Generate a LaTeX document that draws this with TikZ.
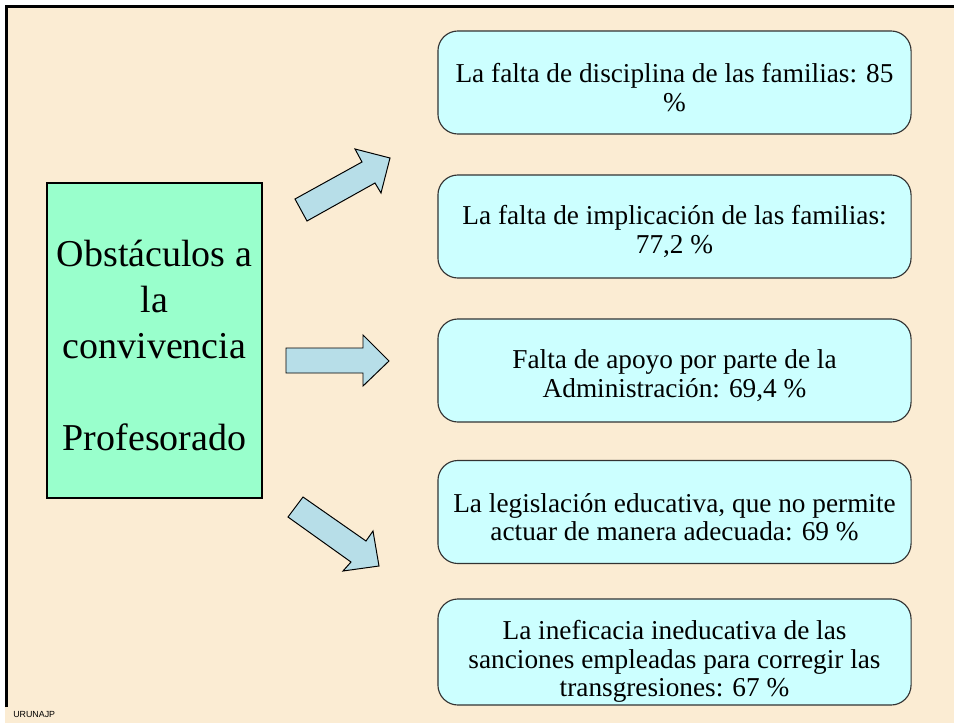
\documentclass[tikz,border=0pt]{standalone}
\usepackage{fontspec}
\setmainfont{Liberation Serif}
\newfontfamily\arialfont{Liberation Sans}
\definecolor{pergamino}{HTML}{FBECD3}
\definecolor{verdecaja}{HTML}{99FFCC}
\definecolor{cyancaja}{HTML}{CCFFFF}
\definecolor{azulflecha}{HTML}{B7DEE8}
\newcommand{\bajar}[1]{\rule{0pt}{#1}}
\begin{document}
\begin{tikzpicture}[x=0.025cm,y=-0.025cm,
        causa/.style={draw=black!80, line width=0.8pt, fill=cyancaja, rounded corners=0.5cm,
            minimum width=11.825cm, minimum height=2.575cm, inner sep=0pt, align=center,
            font=\fontsize{19.4}{20.3}\selectfont},
        flecha/.style={draw=black, line width=0.7pt, fill=azulflecha, line join=miter}]
                \useasboundingbox (0,0) rectangle (954,723);
                \fill[white] (0,0) rectangle (954,723);
                \fill[pergamino] (5,5) rectangle (954,723);
                \draw[line width=2.1pt] (6.5,707) -- (6.5,6.5) -- (954,6.5);
                % caja principal
                \node[draw=black, line width=1.1pt, fill=verdecaja, minimum width=5.375cm, minimum height=7.875cm,
                    inner sep=0pt, align=center, font=\fontsize{27}{32.7}\selectfont] (obst) at (154.5,340.5)
                    {\bajar{26pt}Obst\'aculos a\\la\\convivencia\\[32.7pt]Profesorado};
                % causas
                \node[causa] (c1) at (674.5,82.5) {\bajar{21pt}La falta de disciplina de las familias: 85\\\%};
                \node[causa] (c2) at (674.5,226.5) {\bajar{21pt}La falta de implicaci\'on de las familias:\\77,2 \%};
                \node[causa] (c3) at (674.5,370.5) {\bajar{21pt}Falta de apoyo por parte de la\\Administraci\'on: 69,4 \%};
                \node[causa] (c4) at (674.5,512) {\bajar{21pt}La legislaci\'on educativa, que no permite\\actuar de manera adecuada: 69 \%};
                \node[causa, minimum height=2.65cm] (c5) at (674.5,652)
                    {\bajar{27pt}La ineficacia ineducativa de las\\sanciones empleadas para corregir las\\transgresiones: 67 \%};
                % flechas
                \draw[flecha] (295,199) -- (362,162) -- (355,149) -- (390,158) -- (381,193) -- (375,183) -- (307,221) -- cycle;
                \draw[flecha] (286,348) -- (363,348) -- (363,335) -- (389,361) -- (363,386) -- (363,373) -- (286,373) -- cycle;
                \draw[flecha] (303,497) -- (366,541) -- (373,531) -- (379,566) -- (343,571) -- (351,562) -- (288,517) -- cycle;
                \node[anchor=base west, inner sep=0pt, font=\arialfont\fontsize{6.3}{7}\selectfont] (firma) at (13,717) {URUNAJP};
            \end{tikzpicture}
\end{document}
